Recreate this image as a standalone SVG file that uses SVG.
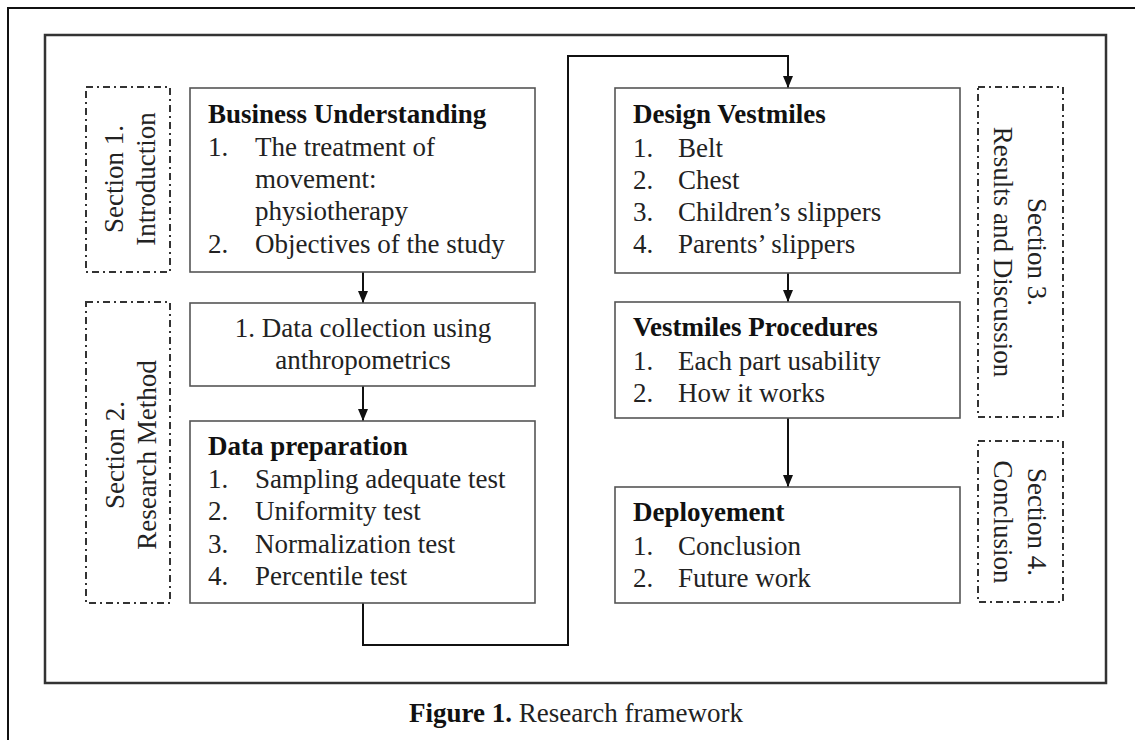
<svg xmlns="http://www.w3.org/2000/svg" width="1135" height="740" viewBox="0 0 1135 740">
<style>
.t{font-family:"Liberation Serif","Times New Roman",serif;font-size:27px;fill:#222}
.b{font-family:"Liberation Serif","Times New Roman",serif;font-size:27px;font-weight:bold;fill:#111}
.box{fill:#fff;stroke:#555;stroke-width:1.6}
.sec{fill:none;stroke:#333;stroke-width:2;stroke-dasharray:7 4 2 4}
.con{fill:none;stroke:#111;stroke-width:2}
</style>
<defs>
<marker id="ah" viewBox="0 0 12 10" refX="12" refY="5" markerWidth="12" markerHeight="10" markerUnits="userSpaceOnUse" orient="auto">
<path d="M0,0 L12,5 L0,10 z" fill="#111"/>
</marker>
</defs>
<rect width="1135" height="740" fill="#fff"/>
<path d="M8,740 V8 H1135" fill="none" stroke="#111" stroke-width="2"/>
<rect x="45" y="35" width="1061" height="648" fill="none" stroke="#333" stroke-width="2.5"/>

<g id="connectors">
<path class="con" d="M363,272 V303" marker-end="url(#ah)"/>
<path class="con" d="M363,386 V421" marker-end="url(#ah)"/>
<path class="con" d="M363,603 V645 H568 V56 H788 V88" marker-end="url(#ah)"/>
<path class="con" d="M788,273 V302" marker-end="url(#ah)"/>
<path class="con" d="M788,418 V487" marker-end="url(#ah)"/>
</g>

<g id="section1">
<rect class="sec" x="86" y="87" width="84" height="185"/>
<text class="t" text-anchor="middle" transform="translate(123,179) rotate(-90)">Section 1.</text>
<text class="t" text-anchor="middle" transform="translate(155,179) rotate(-90)">Introduction</text>
</g>
<g id="section2">
<rect class="sec" x="86" y="302" width="84" height="301"/>
<text class="t" text-anchor="middle" transform="translate(124,455) rotate(-90)">Section 2.</text>
<text class="t" text-anchor="middle" transform="translate(156,455) rotate(-90)">Research Method</text>
</g>
<g id="section3">
<rect class="sec" x="978" y="87" width="85" height="330"/>
<text class="t" text-anchor="middle" transform="translate(1028,252) rotate(90)">Section 3.</text>
<text class="t" text-anchor="middle" transform="translate(994,252) rotate(90)">Results and Discussion</text>
</g>
<g id="section4">
<rect class="sec" x="978" y="441" width="85" height="161"/>
<text class="t" text-anchor="middle" transform="translate(1028,522) rotate(90)">Section 4.</text>
<text class="t" text-anchor="middle" transform="translate(994,522) rotate(90)">Conclusion</text>
</g>

<g id="business-understanding">
<rect class="box" x="190" y="88" width="345" height="184"/>
<text class="b" x="208" y="123">Business Understanding</text>
<text class="t" x="208" y="156">1.</text>
<text class="t" x="255" y="156">The treatment of</text>
<text class="t" x="255" y="188">movement:</text>
<text class="t" x="255" y="220">physiotherapy</text>
<text class="t" x="208" y="253">2.</text>
<text class="t" x="255" y="253">Objectives of the study</text>
</g>

<g id="data-collection">
<rect class="box" x="190" y="303" width="345" height="83"/>
<text class="t" x="363" y="337" text-anchor="middle">1. Data collection using</text>
<text class="t" x="363" y="369" text-anchor="middle">anthropometrics</text>
</g>

<g id="data-preparation">
<rect class="box" x="190" y="421" width="345" height="182"/>
<text class="b" x="208" y="455">Data preparation</text>
<text class="t" x="208" y="488">1.</text>
<text class="t" x="255" y="488">Sampling adequate test</text>
<text class="t" x="208" y="520">2.</text>
<text class="t" x="255" y="520">Uniformity test</text>
<text class="t" x="208" y="553">3.</text>
<text class="t" x="255" y="553">Normalization test</text>
<text class="t" x="208" y="585">4.</text>
<text class="t" x="255" y="585">Percentile test</text>
</g>

<g id="design-vestmiles">
<rect class="box" x="615" y="88" width="345" height="185"/>
<text class="b" x="633" y="123">Design Vestmiles</text>
<text class="t" x="633" y="157">1.</text>
<text class="t" x="678" y="157">Belt</text>
<text class="t" x="633" y="189">2.</text>
<text class="t" x="678" y="189">Chest</text>
<text class="t" x="633" y="221">3.</text>
<text class="t" x="678" y="221">Children’s slippers</text>
<text class="t" x="633" y="253">4.</text>
<text class="t" x="678" y="253">Parents’ slippers</text>
</g>

<g id="vestmiles-procedures">
<rect class="box" x="615" y="302" width="345" height="116"/>
<text class="b" x="633" y="336">Vestmiles Procedures</text>
<text class="t" x="633" y="370">1.</text>
<text class="t" x="678" y="370">Each part usability</text>
<text class="t" x="633" y="402">2.</text>
<text class="t" x="678" y="402">How it works</text>
</g>

<g id="deployement">
<rect class="box" x="615" y="487" width="345" height="116"/>
<text class="b" x="633" y="521">Deployement</text>
<text class="t" x="633" y="555">1.</text>
<text class="t" x="678" y="555">Conclusion</text>
<text class="t" x="633" y="587">2.</text>
<text class="t" x="678" y="587">Future work</text>
</g>

<g id="caption">
<text class="t" x="576" y="722" text-anchor="middle"><tspan class="b">Figure 1.</tspan> Research framework</text>
</g>
</svg>
